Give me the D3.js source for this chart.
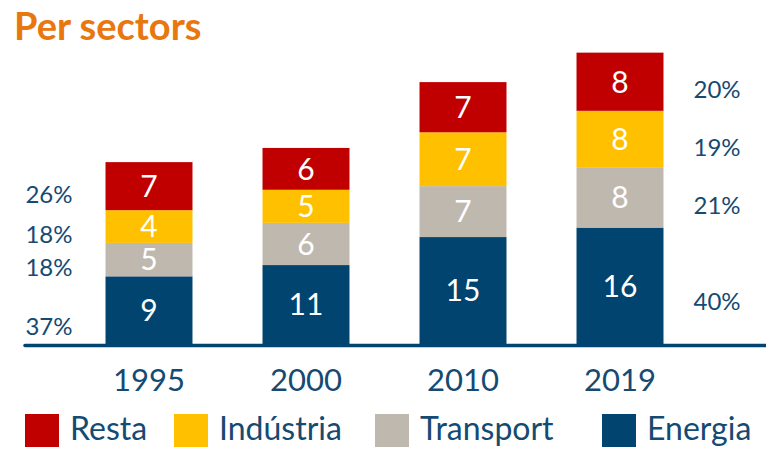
<!DOCTYPE html>
<meta charset="utf-8">
<head>
<style>
  body { margin: 0; background: #fff; }
  svg text { font-family: Lato, "Open Sans", sans-serif; }
</style>
</head>
<title>Per sectors</title>
<script src="https://d3js.org/d3.v7.min.js"></script>
<div id="chart"></div>
<script>

// data
var years = ["1995", "2000", "2010", "2019"];
var sectors = ["Energia", "Transport", "Indústria", "Resta"];   // bottom to top
var energia   = [9.3, 10.85, 14.7, 16.0];
var transport = [4.6, 5.8, 7.0, 8.3];
var industria = [4.5, 4.55, 7.4, 7.75];
var resta     = [6.6, 5.75, 6.9, 8.0];
// labels printed on the chart
var segLabels = {
  "Energia":   ["9", "11", "15", "16"],
  "Transport": ["5", "6", "7", "8"],
  "Indústria": ["4", "5", "7", "8"],
  "Resta":     ["7", "6", "7", "8"]
};
var totals = ["25", "27", "36", "40"];
var pct1995 = ["37%", "18%", "18%", "26%"];
var pct2019 = ["40%", "21%", "19%", "20%"];
var legendOrder = ["Resta", "Indústria", "Transport", "Energia"];

var colors = {
  "Energia": "#00446f",
  "Transport": "#bfb8af",
  "Indústria": "#ffc000",
  "Resta": "#c00000"
};
var textColor = "#154a72";

var W = 766, H = 449;
var svg = d3.select("#chart").append("svg")
  .attr("width", W).attr("height", H);

var rows = years.map(function(y, i) {
  return {year: y, "Energia": energia[i], "Transport": transport[i],
          "Indústria": industria[i], "Resta": resta[i]};
});
var series = d3.stack().keys(sectors)(rows);

var x = d3.scaleBand()
  .domain(years)
  .range([70.5, 698.5])
  .paddingInner(0.446)
  .paddingOuter(0.223);

var y = d3.scaleLinear()
  .domain([0, 40])
  .range([344, 53]);

// title
svg.append("text")
  .attr("x", 14).attr("y", 40)
  .attr("fill", "#e8770e")
  .style("font-weight", "bold")
  .style("font-size", "38px")
  .text("Per sectors");

// bars
var groups = svg.selectAll("g.layer")
  .data(series)
  .enter().append("g")
  .attr("class", "layer")
  .attr("fill", function(d) { return colors[d.key]; });

groups.selectAll("rect")
  .data(function(d) { return d; })
  .enter().append("rect")
  .attr("x", function(d) { return x(d.data.year); })
  .attr("width", x.bandwidth())
  .attr("y", function(d) { return y(d[1]); })
  .attr("height", function(d) { return y(d[0]) - y(d[1]); });

// numbers in bars
groups.each(function(s) {
  d3.select(this).selectAll("text")
    .data(s)
    .enter().append("text")
    .attr("x", function(d) { return x(d.data.year) + x.bandwidth() / 2; })
    .attr("y", function(d) { return (y(d[0]) + y(d[1])) / 2; })
    .attr("dy", "0.36em")
    .attr("text-anchor", "middle")
    .attr("fill", "#fff")
    .style("font-size", "30px")
    .text(function(d, i) { return segLabels[s.key][i]; });
});

// totals
var top = series[series.length - 1];
svg.selectAll("text.total")
  .data(top)
  .enter().append("text")
  .attr("class", "total")
  .attr("x", function(d) { return x(d.data.year) + x.bandwidth() / 2; })
  .attr("y", function(d) { return y(d[1]) - 25; })
  .attr("dy", "0.36em")
  .attr("text-anchor", "middle")
  .attr("fill", textColor)
  .style("font-size", "31px")
  .text(function(d, i) { return totals[i]; });

// percentages 1995 (left) and 2019 (right)
function pctY(s, i) {
  var d = s[i];
  var mid = (y(d[0]) + y(d[1])) / 2;
  return s.key === "Energia" ? mid + 16 : mid + 8;
}
series.forEach(function(s, k) {
  svg.append("text")
    .attr("x", x("1995") - 33)
    .attr("y", pctY(s, 0))
    .attr("dy", "0.36em")
    .attr("text-anchor", "end")
    .attr("fill", textColor)
    .style("font-size", "24px")
    .text(pct1995[k]);
  svg.append("text")
    .attr("x", x("2019") + x.bandwidth() + 30)
    .attr("y", pctY(s, 3))
    .attr("dy", "0.36em")
    .attr("text-anchor", "start")
    .attr("fill", textColor)
    .style("font-size", "24px")
    .text(pct2019[k]);
});

// baseline (hand drawn look)
svg.append("line")
  .attr("x1", 25).attr("x2", W)
  .attr("y1", y(0) + 1.5).attr("y2", y(0) + 1.5)
  .attr("stroke", "#00446f")
  .attr("stroke-width", 3.5)
  .attr("stroke-linecap", "round");

// year labels
svg.selectAll("text.year")
  .data(years)
  .enter().append("text")
  .attr("class", "year")
  .attr("x", function(d) { return x(d) + x.bandwidth() / 2; })
  .attr("y", 380)
  .attr("dy", "0.36em")
  .attr("text-anchor", "middle")
  .attr("fill", textColor)
  .style("font-size", "31px")
  .text(function(d) { return d; });

// legend
var legX = [25, 174, 375, 602];
var leg = svg.selectAll("g.leg")
  .data(legendOrder)
  .enter().append("g")
  .attr("class", "leg")
  .attr("transform", function(d, i) { return "translate(" + legX[i] + ",414)"; });
leg.append("rect")
  .attr("width", 34).attr("height", 33)
  .attr("fill", function(d) { return colors[d]; });
leg.append("text")
  .attr("x", 45).attr("y", 14)
  .attr("dy", "0.36em")
  .attr("fill", textColor)
  .style("font-size", "32px")
  .text(function(d) { return d; });

</script>
